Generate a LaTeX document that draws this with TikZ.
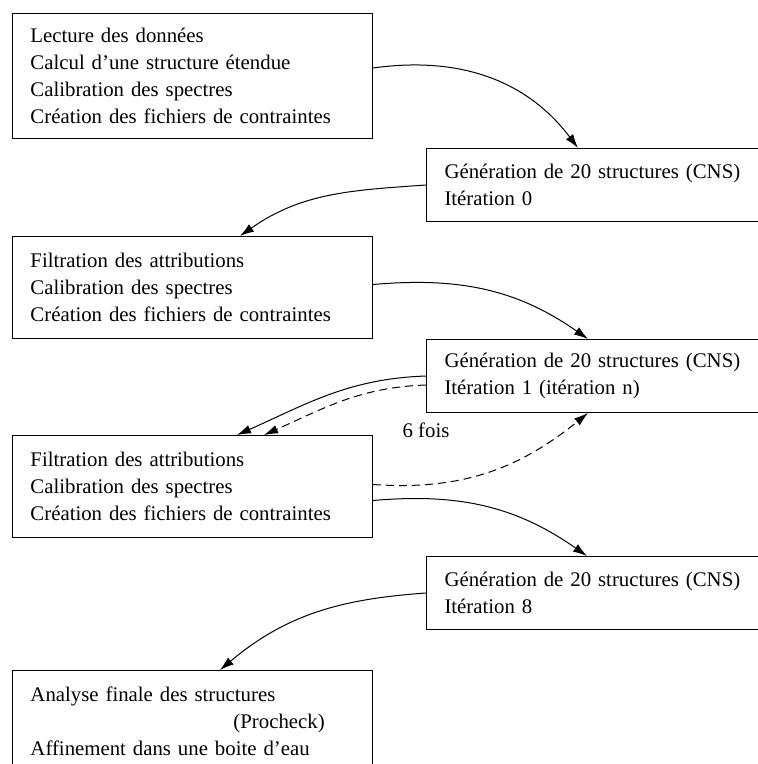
\documentclass[tikz,border=0pt]{standalone}
\usepackage{fontspec}
\setmainfont{Liberation Serif}
\usetikzlibrary{arrows.meta, positioning}

\begin{document}
\begin{tikzpicture} [
	x=1pt, y=1pt,
	line width=1pt,
	>={Latex[length=14pt, width=9pt]}, % filled heads
	node distance=10pt,
	every node/.style={font=\fontsize{20.8}{27}\selectfont},
	etape/.style={draw, align=left, inner xsep=18pt, inner ysep=0pt}, % common box
	gauche/.style={etape, text width=324pt}, % left column
	droite/.style={etape, text width=364pt, minimum height=73pt}, % right column
	]
	\useasboundingbox (0,0) rectangle (758,-764);
	\clip (0,0) rectangle (758,-764);

	\node[gauche, minimum height=125pt, anchor=north west] (lect) at (12,-13)
		{Lecture des donn\'ees\\ Calcul d'une structure \'etendue\\ Calibration des spectres\\ Cr\'eation des fichiers de contraintes};
	\node[droite, below right=9pt and 53pt of lect.south east] (gen0)
		{G\'en\'eration de 20 structures (CNS)\\ It\'eration 0};
	\node[gauche, minimum height=102pt, below=97pt of lect.south west, anchor=north west] (filt1)
		{Filtration des attributions\\ Calibration des spectres\\ Cr\'eation des fichiers de contraintes};
	\node[droite, below right=0pt and 53pt of filt1.south east] (gen1)
		{G\'en\'eration de 20 structures (CNS)\\ It\'eration 1 (it\'eration n)};
	\node[gauche, minimum height=102pt, below=96pt of filt1.south west, anchor=north west] (filt2)
		{Filtration des attributions\\ Calibration des spectres\\ Cr\'eation des fichiers de contraintes};
	\node[droite, below right=18pt and 53pt of filt2.south east] (gen8)
		{G\'en\'eration de 20 structures (CNS)\\ It\'eration 8};
	\node[gauche, minimum height=102pt, below=132pt of filt2.south west, anchor=north west] (fin)
		{Analyse finale des structures\\ \hspace*{203pt}(Procheck)\\ Affinement dans une boite d'eau};

	\node (fois) at (426,-430) {6 fois};

	\draw[->] ([yshift=8]lect.east) to[out=8, in=127] ([xshift=152]gen0.north west);
	\draw[->] (gen0.west) to[out=184, in=35] ([xshift=228]filt1.north west);
	\draw[->] ([yshift=3]filt1.east) to[out=5, in=145] ([xshift=162]gen1.north west);
	\draw[->] (gen1.west) to[out=182, in=24] ([xshift=225]filt2.north west);
	\draw[->, dash pattern=on 8pt off 5pt] ([yshift=-9]gen1.west) to[out=182, in=24] ([xshift=252]filt2.north west);
	\draw[->, dash pattern=on 8pt off 5pt] ([yshift=2]filt2.east) to[out=-4, in=-141] ([xshift=162]gen1.south west);
	\draw[->] ([yshift=-14]filt2.east) to[out=5, in=145] ([xshift=161]gen8.north west);
	\draw[->] (gen8.west) to[out=184, in=40] ([xshift=208]fin.north west);
\end{tikzpicture}
\end{document}
